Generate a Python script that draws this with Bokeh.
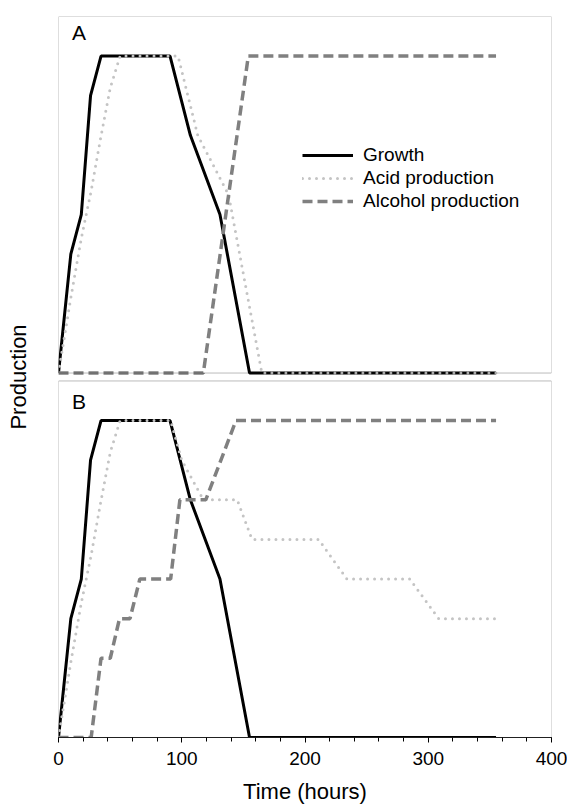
from bokeh.plotting import figure
from bokeh.models import (Range1d, LinearAxis, FixedTicker, Legend, LegendItem,
                          Label, BoxAnnotation)
from bokeh.embed import file_html
from bokeh.resources import INLINE

# Time (hours) and relative production level for each process
growth_t = [0, 10, 18.5, 26, 34.5, 90.5, 107, 131, 155, 355]
growth_v = [0, 3, 4, 7, 8, 8, 6, 4, 0, 0]

# Panel A
acid_a_t = [0, 10, 18.5, 26.5, 34, 42, 50, 97, 113, 138, 165, 355]
acid_a_v = [0, 1.9, 3.4, 4.6, 5.9, 7.2, 8, 8, 6, 4.5, 0, 0]
alcohol_a_t = [0, 117.5, 154, 355]
alcohol_a_v = [0, 0, 8, 8]

# Panel B
acid_b_t = [0, 10, 18.5, 26.5, 34, 42, 50, 91, 100, 117.5, 145, 157, 211, 234, 285, 308.5, 355]
acid_b_v = [0, 1.9, 3.4, 4.6, 5.9, 7.2, 8, 8, 7, 6, 6, 5, 5, 4, 4, 3, 3]
alcohol_b_t = [0, 26.5, 34.5, 42, 49.5, 58, 66, 91, 98.5, 119.5, 144, 355]
alcohol_b_v = [0, 0, 2, 2, 3, 3, 4, 4, 6, 6, 8, 8]

x_ticks = [0, 100, 200, 300, 400]
x_minor = list(range(0, 401, 20))
panel_top = 9.0
panel_gap = 0.2

FONT = "Liberation Sans"
GROWTH = dict(line_color="#000000", line_width=3)
ACID = dict(line_color="#c4c4c4", line_width=3, line_dash="0 7", line_cap="round")
ALCOHOL = dict(line_color="#808080", line_width=3.5, line_dash="10 5")

total = 2 * panel_top + panel_gap
p = figure(width=567, height=807, x_range=Range1d(0, 400), y_range=Range1d(0, total),
           output_backend="svg", toolbar_location=None,
           x_axis_type=None, y_axis_type=None,
           min_border_left=58, min_border_right=16, min_border_top=16, min_border_bottom=70)
p.outline_line_color = None
p.background_fill_color = "white"
p.border_fill_color = "white"
# upper panel (A) lives on its own y range; lower panel (B) uses the default one
p.extra_y_ranges = {"a": Range1d(panel_top - total, panel_top)}

# panel frames
for rname in ("default", "a"):
    p.add_layout(BoxAnnotation(left=0, right=400, bottom=0, top=panel_top,
                               y_range_name=rname, fill_color=None,
                               line_color="#222222", line_width=1))

xaxis = LinearAxis(ticker=FixedTicker(ticks=x_ticks, minor_ticks=x_minor),
                   axis_label="Time (hours)",
                   axis_line_color="#222222", major_tick_in=0, major_tick_out=5,
                   minor_tick_in=0, minor_tick_out=4,
                   major_label_standoff=9, major_label_text_font=FONT,
                   major_label_text_font_size="19px", major_label_text_color="black",
                   axis_label_standoff=11, axis_label_text_font=FONT,
                   axis_label_text_font_size="22px", axis_label_text_font_style="normal",
                   axis_label_text_color="black")
p.add_layout(xaxis, "below")

yaxis = LinearAxis(ticker=FixedTicker(ticks=[]), axis_label="Production",
                   axis_line_color=None, major_tick_line_color=None,
                   minor_tick_line_color=None, axis_label_standoff=28,
                   axis_label_text_font=FONT, axis_label_text_font_size="22px",
                   axis_label_text_font_style="normal", axis_label_text_color="black")
p.add_layout(yaxis, "left")

# Panel A curves
g_a = p.line(growth_t, growth_v, y_range_name="a", **GROWTH)
ac_a = p.line(acid_a_t, acid_a_v, y_range_name="a", **ACID)
al_a = p.line(alcohol_a_t, alcohol_a_v, y_range_name="a", **ALCOHOL)

# Panel B curves
p.line(growth_t, growth_v, **GROWTH)
p.line(acid_b_t, acid_b_v, **ACID)
p.line(alcohol_b_t, alcohol_b_v, **ALCOHOL)

legend = Legend(items=[LegendItem(label="Growth", renderers=[g_a]),
                       LegendItem(label="Acid production", renderers=[ac_a]),
                       LegendItem(label="Alcohol production", renderers=[al_a])],
                location=(244, 525), glyph_width=51, glyph_height=20, label_height=20,
                spacing=1, padding=0, margin=0, label_standoff=10,
                border_line_color=None, background_fill_alpha=0,
                label_text_font=FONT, label_text_font_size="19px",
                label_text_color="black")
p.add_layout(legend)

p.add_layout(Label(x=11, y=8.3, y_range_name="a", text="A", text_font=FONT,
                   text_font_size="21px", text_color="black"))
p.add_layout(Label(x=11, y=8.2, text="B", text_font=FONT,
                   text_font_size="21px", text_color="black"))

open("out.html", "w").write(file_html(p, INLINE))
